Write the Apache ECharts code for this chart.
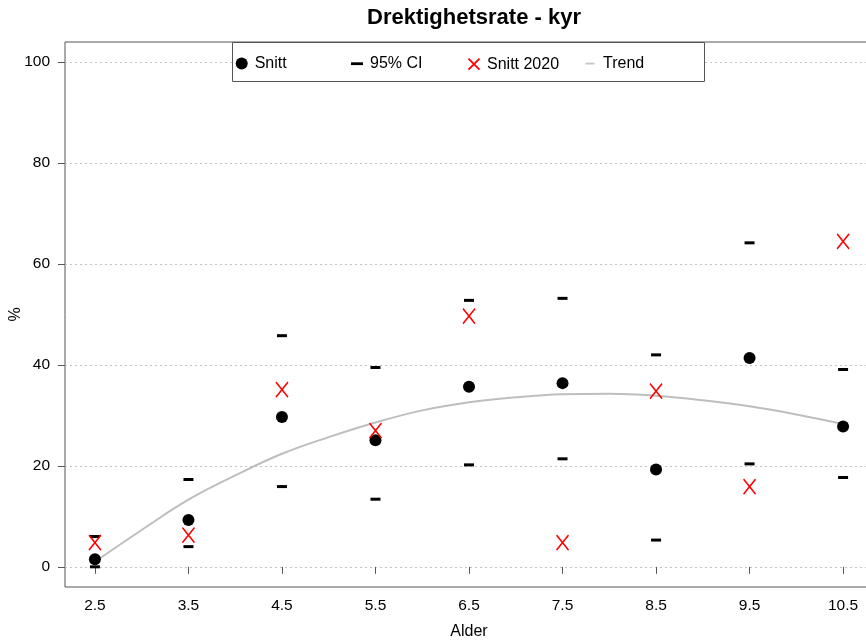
<!DOCTYPE html>
<html>
<head>
<meta charset="utf-8">
<script src="https://cdn.jsdelivr.net/npm/echarts@6/dist/echarts.min.js"></script>
<style>html,body{margin:0;padding:0;background:#fff}#c{width:866px;height:643px}</style>
</head>
<body>
<div id="c"></div>
<script>
// ---- data ----
var ages = [2.5, 3.5, 4.5, 5.5, 6.5, 7.5, 8.5, 9.5, 10.5];
var snitt = [1.5, 9.3, 29.7, 25.1, 35.7, 36.4, 19.3, 41.4, 27.8];
var ciUpper = [6.0, 17.3, 45.8, 39.5, 52.8, 53.2, 42.0, 64.2, 39.1];
var ciLower = [0.0, 4.0, 15.9, 13.4, 20.2, 21.4, 5.3, 20.4, 17.7];
var snitt2020 = [4.8, 6.3, 35.1, 27.0, 49.7, 4.8, 34.8, 15.9, 64.5];
var trendX = [2.5, 3, 3.5, 4, 4.5, 5, 5.5, 6, 6.5, 7, 7.5, 8, 8.5, 9, 9.5, 10, 10.5];
var trendY = [1.0, 7.3, 13.3, 18.1, 22.4, 25.7, 28.6, 31.0, 32.6, 33.6, 34.2, 34.3, 33.9, 33.0, 31.8, 30.2, 28.3];
var yTicks = [0, 20, 40, 60, 80, 100];
var xTicks = ages;
var legendNames = ['Snitt', '95% CI', 'Snitt 2020', 'Trend'];

function pairs(xs, ys) { return xs.map(function (x, i) { return [x, ys[i]]; }); }

var FONT = '"Liberation Sans", Arial, sans-serif';
var chart = echarts.init(document.getElementById('c'), null, { renderer: 'canvas' });
var xPath = 'path://M0,0L12,15M12,0L0,15';

var legendIcons = [
  { icon: 'path://M0,0 M2,7 A6,6 0 1 1 14,7 A6,6 0 1 1 2,7 Z M16,14', itemStyle: { color: '#000', borderWidth: 0, opacity: 1 } },
  { icon: 'path://M0,0 M2,5.8 L14,5.8 L14,8.6 L2,8.6 Z M16,14', itemStyle: { color: '#000', borderWidth: 0, opacity: 1 } },
  { icon: 'path://M0,0 M2.5,1.5 L13.5,12.5 M13.5,1.5 L2.5,12.5 M16,14', itemStyle: { color: 'none', borderColor: '#ff0000', borderWidth: 1.8, opacity: 1 } },
  { icon: 'path://M0,0 M3.5,6.2 L12.5,6.2 L12.5,8 L3.5,8 Z M16,14', itemStyle: { color: '#c4c4c4', borderWidth: 0, opacity: 1 } }
];
var legendLefts = [233.7, 349, 463.5, 582];
var legendTops = [55.5, 55.5, 54.7, 55.5];

var legends = legendNames.map(function (n, i) {
  return {
    left: legendLefts[i], top: legendTops[i], padding: 0, z: 5,
    itemWidth: 16, itemHeight: 14, selectedMode: false,
    textStyle: { fontFamily: FONT, fontSize: 16, color: '#000' },
    data: [Object.assign({ name: n }, legendIcons[i])]
  };
});

chart.setOption({
  animation: false,
  backgroundColor: '#fff',
  title: {
    text: 'Drektighetsrate - kyr',
    left: 469, top: 2, textAlign: 'center',
    textStyle: { fontFamily: FONT, fontSize: 22, fontWeight: 'bold', color: '#000' }
  },
  legend: legends,
  graphic: [{
    type: 'rect', z: 3, silent: true,
    shape: { x: 232.5, y: 42.5, width: 472, height: 39 },
    style: { fill: '#fff', stroke: '#555', lineWidth: 1 }
  }],
  grid: {
    left: 65, top: 42, right: -7, bottom: 56,
    show: true, borderColor: '#555', borderWidth: 1, backgroundColor: 'transparent',
    containLabel: false, outerBoundsMode: 'none'
  },
  xAxis: {
    type: 'value', min: 2.18, max: 10.82,
    name: 'Alder', nameLocation: 'middle', nameGap: 37, nameMoveOverlap: false,
    nameTextStyle: { fontFamily: FONT, fontSize: 16, color: '#000' },
    axisLine: { show: false },
    axisTick: { show: true, length: 7, customValues: xTicks, lineStyle: { color: '#555' } },
    axisLabel: { customValues: xTicks, fontFamily: FONT, fontSize: 15.5, color: '#000', margin: 11 },
    splitLine: { show: false }
  },
  yAxis: {
    type: 'value', min: -4, max: 104,
    name: '%', nameLocation: 'middle', nameGap: 41, nameMoveOverlap: false,
    nameTextStyle: { fontFamily: FONT, fontSize: 16, color: '#000' },
    axisLine: { show: false },
    axisTick: { show: true, length: 7, customValues: yTicks, lineStyle: { color: '#555' } },
    axisLabel: { customValues: yTicks, fontFamily: FONT, fontSize: 15.5, color: '#000', margin: 15 },
    splitLine: { show: true, lineStyle: { type: [2, 3], color: '#c4c4c4', width: 1 } }
  },
  series: [
    {
      name: 'Trend', type: 'line', data: pairs(trendX, trendY), smooth: 0.4,
      showSymbol: false, symbol: 'none', silent: true, z: 1,
      lineStyle: { color: '#bebebe', width: 2 }, itemStyle: { color: '#bebebe' }
    },
    {
      name: '95% CI', type: 'scatter', data: pairs(ages, ciUpper), symbol: 'rect',
      symbolSize: [10, 3], itemStyle: { color: '#000', opacity: 1 }, silent: true, z: 2
    },
    {
      name: '95% CI', type: 'scatter', data: pairs(ages, ciLower), symbol: 'rect',
      symbolSize: [10, 3], itemStyle: { color: '#000', opacity: 1 }, silent: true, z: 2
    },
    {
      name: 'Snitt', type: 'scatter', data: pairs(ages, snitt), symbol: 'circle',
      symbolSize: 12, itemStyle: { color: '#000', opacity: 1 }, silent: true, z: 3
    },
    {
      name: 'Snitt 2020', type: 'scatter', data: pairs(ages, snitt2020), symbol: xPath,
      symbolSize: [12, 15], itemStyle: { color: 'none', borderColor: '#ff0000', borderWidth: 1.6, opacity: 1 },
      silent: true, z: 4
    }
  ]
});
</script>
</body>
</html>
